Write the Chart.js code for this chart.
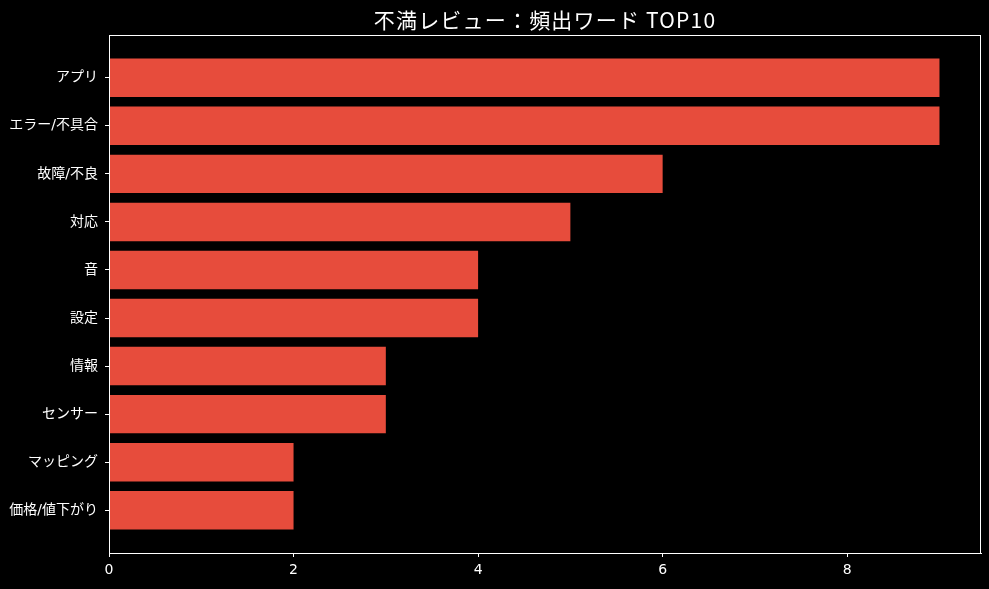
<!DOCTYPE html>
<html>
	<head>
		<meta http-equiv="content-type" content="text/html; charset=UTF-8">
		<script src="https://cdn.jsdelivr.net/npm/chart.js@4/dist/chart.umd.min.js"></script>
		<style>
			html, body { margin: 0; padding: 0; background: #000; }
			#wrap { width: 989px; height: 589px; }
		</style>
	</head>
	<body>
		<div id="wrap"><canvas id="bar-chart" width="989" height="589"></canvas></div>
		<script type="text/javascript">
			// chart data
			var titleText = '不満レビュー：頻出ワード TOP10';
			var categories = ['アプリ', 'エラー/不具合', '故障/不良', '対応', '音', '設定', '情報', 'センサー', 'マッピング', '価格/値下がり'];
			var counts = [9, 9, 6, 5, 4, 4, 3, 3, 2, 2];
			var xTicks = [0, 2, 4, 6, 8];

			var font = '"DejaVu Sans", "Noto Sans CJK JP", sans-serif';
			var titleFont = '"Noto Sans CJK JP", sans-serif';

			// points on a linear index axis so the margins match the original
			var points = counts.map(function(v, i) { return { x: v, y: i }; });

			// frame round the plot area + title centred over it
			var framePlugin = {
				id: 'frame',
				afterDraw: function(chart) {
					var c = chart.ctx, a = chart.chartArea;
					c.save();
					c.strokeStyle = '#ffffff';
					c.lineWidth = 1;
					c.strokeRect(a.left + 0.5, a.top + 0.5, a.right - a.left - 1, a.bottom - a.top);
					c.fillStyle = '#ffffff';
					c.font = '21px ' + titleFont;
					c.letterSpacing = '1.2px';
					c.textAlign = 'center';
					c.textBaseline = 'alphabetic';
					c.fillText(titleText, (a.left + a.right) / 2, 28);
					c.restore();
				}
			};

			var ctx = document.getElementById('bar-chart');
			new Chart(ctx, {
				type: 'bar',
				data: {
					datasets: [{
						data: points,
						backgroundColor: '#e74c3c',
						barPercentage: 0.8,
						categoryPercentage: 1.0
					}]
				},
				options: {
					indexAxis: 'y',
					responsive: false,
					animation: false,
					layout: { padding: { top: 35, right: 8, left: 0, bottom: 0 } },
					plugins: { legend: { display: false }, tooltip: { enabled: false }, title: { display: false } },
					scales: {
						x: {
							type: 'linear',
							min: 0,
							max: 9.45,
							afterBuildTicks: function(s) { s.ticks = xTicks.map(function(v) { return { value: v }; }); },
							afterFit: function(s) { s.height = 36; },
							grid: { drawOnChartArea: false, drawTicks: true, tickLength: 4, color: '#ffffff' },
							border: { display: true, color: '#ffffff' },
							ticks: { color: '#ffffff', padding: 5, font: { family: font, size: 14 } }
						},
						y: {
							type: 'linear',
							reverse: true,
							offset: false,
							min: -0.89,
							max: 9.89,
							afterBuildTicks: function(s) { s.ticks = categories.map(function(_, i) { return { value: i }; }); },
							afterFit: function(s) { s.width = 109; },
							grid: { offset: false, drawOnChartArea: false, drawTicks: true, tickLength: 4, color: '#ffffff' },
							border: { display: true, color: '#ffffff' },
							ticks: {
								color: '#ffffff',
								padding: 7,
								autoSkip: false,
								font: { family: font, size: 14 },
								callback: function(v) { return categories[v] !== undefined ? categories[v] : ''; }
							}
						}
					}
				},
				plugins: [framePlugin]
			});
		</script>
	</body>
</html>
